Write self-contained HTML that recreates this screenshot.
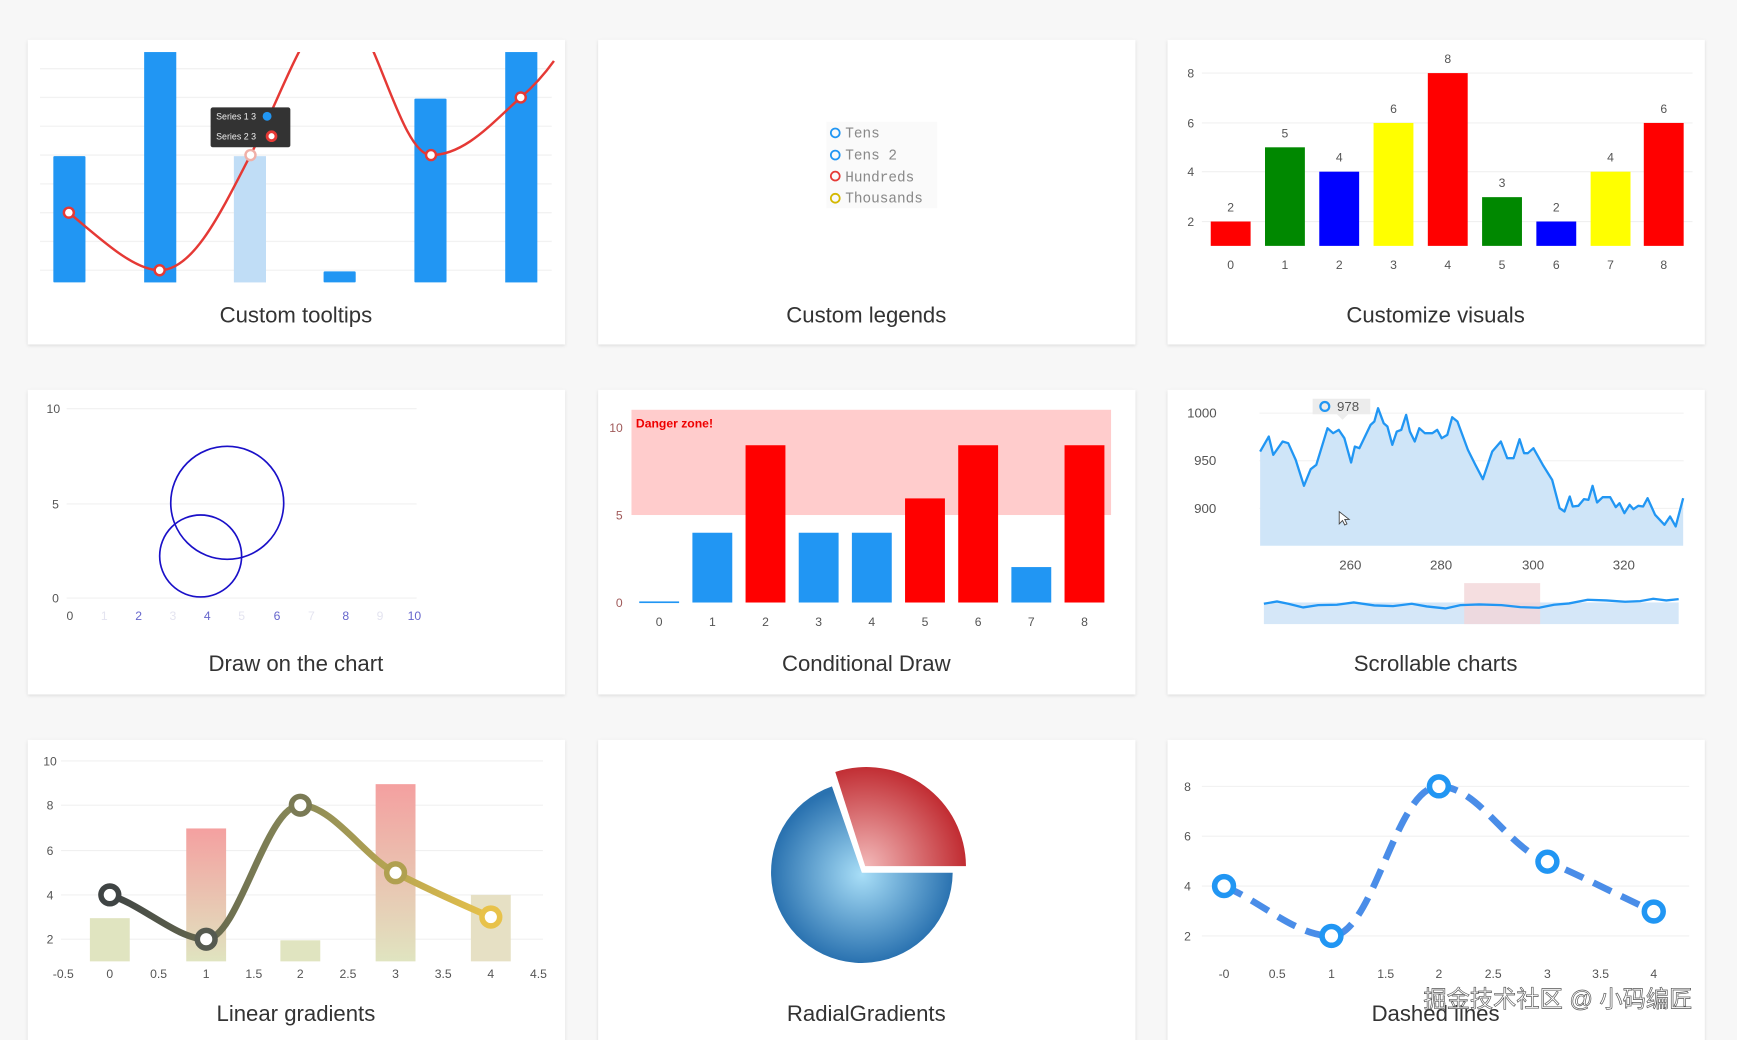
<!DOCTYPE html>
<html><head><meta charset="utf-8"><style>
html,body{margin:0;padding:0;background:#f7f7f7;}
svg{display:block;font-family:"Liberation Sans",sans-serif;}
</style></head><body>
<svg width="1737" height="1040" viewBox="0 0 1568 939" xmlns="http://www.w3.org/2000/svg">
<defs>
<filter id="sh" x="-5%" y="-5%" width="110%" height="115%"><feDropShadow dx="0" dy="1" stdDeviation="1.5" flood-color="#000" flood-opacity="0.12"/></filter>
<clipPath id="c1"><rect x="36" y="47" width="470" height="220"/></clipPath>
<linearGradient id="rb" x1="0" y1="0" x2="0" y2="1"><stop offset="0" stop-color="#f4a0a0"/><stop offset="1" stop-color="#e0e4c0"/></linearGradient>
<linearGradient id="lg" gradientUnits="userSpaceOnUse" x1="99" y1="0" x2="443" y2="0"><stop offset="0" stop-color="#3f4444"/><stop offset="0.5" stop-color="#8a8a58"/><stop offset="1" stop-color="#e8c24a"/></linearGradient>
<radialGradient id="pb" cx="0.5" cy="0.5" r="0.5"><stop offset="0" stop-color="#a8def7"/><stop offset="1" stop-color="#2a72b0"/></radialGradient>
<radialGradient id="pr" gradientUnits="userSpaceOnUse" cx="781" cy="782" r="92"><stop offset="0" stop-color="#f2b8b8"/><stop offset="1" stop-color="#c02a30"/></radialGradient>
</defs>
<rect width="1568" height="939" fill="#f7f7f7"/>
<g fill="#fff" filter="url(#sh)">
<rect x="25" y="36" width="485" height="275"/><rect x="540" y="36" width="485" height="275"/><rect x="1054" y="36" width="485" height="275"/>
<rect x="25" y="352" width="485" height="275"/><rect x="540" y="352" width="485" height="275"/><rect x="1054" y="352" width="485" height="275"/>
<rect x="25" y="668" width="485" height="290"/><rect x="540" y="668" width="485" height="290"/><rect x="1054" y="668" width="485" height="290"/>
</g>
<g font-size="20" fill="#333" text-anchor="middle">
<text x="267" y="291">Custom tooltips</text><text x="782" y="291">Custom legends</text><text x="1296" y="291">Customize visuals</text>
<text x="267" y="606">Draw on the chart</text><text x="782" y="606">Conditional Draw</text><text x="1296" y="606">Scrollable charts</text>
<text x="267" y="922">Linear gradients</text><text x="782" y="922">RadialGradients</text><text x="1296" y="922">Dashed lines</text>
</g>

<!-- Card 1 -->
<g stroke="#f2f2f2" stroke-width="1.2">
<line x1="36" x2="498" y1="62" y2="62"/><line x1="36" x2="498" y1="88" y2="88"/><line x1="36" x2="498" y1="114" y2="114"/><line x1="36" x2="498" y1="140" y2="140"/><line x1="36" x2="498" y1="166" y2="166"/><line x1="36" x2="498" y1="192" y2="192"/><line x1="36" x2="498" y1="218" y2="218"/><line x1="36" x2="498" y1="244" y2="244"/>
</g>
<g fill="#2196f3">
<rect x="48" y="141" width="29" height="114" rx="1"/><rect x="130" y="47" width="29" height="208"/><rect x="211" y="141" width="29" height="114" fill="#c0ddf6"/><rect x="292" y="245" width="29" height="10" rx="1"/><rect x="374" y="89" width="29" height="166" rx="1"/><rect x="456" y="47" width="29" height="208"/>
</g>
<path clip-path="url(#c1)" d="M62,192 C90,215 120,244 144,244 C175,244 200,190 226,140 C255,85 280,5 307,5 C335,5 360,140 389,140 C420,140 445,110 470,88 C485,75 495,62 500,55" fill="none" stroke="#e53935" stroke-width="2.2"/>
<g fill="#fff" stroke="#e53935" stroke-width="2.2"><circle cx="62" cy="192" r="4.5"/><circle cx="144" cy="244" r="4.5"/><circle cx="226" cy="140" r="4.5" stroke="#f0b0a8"/><circle cx="389" cy="140" r="4.5"/><circle cx="470" cy="88" r="4.5"/></g>
<rect x="190" y="97" width="72" height="36" rx="2" fill="#333"/>
<g fill="#eee" font-size="8"><text x="195" y="108">Series 1 3</text><text x="195" y="126">Series 2 3</text></g>
<circle cx="241" cy="105" r="4" fill="#2196f3"/><circle cx="245" cy="123" r="4" fill="#fff" stroke="#e53935" stroke-width="2.5"/>

<!-- Card 2 -->
<rect x="746" y="110" width="100" height="78" fill="#fafafa"/>
<g font-family="Liberation Mono,monospace" font-size="13" fill="#888">
<text x="763" y="124">Tens</text><text x="763" y="144">Tens 2</text><text x="763" y="164">Hundreds</text><text x="763" y="183">Thousands</text></g>
<g fill="none" stroke-width="1.6"><circle cx="754" cy="120" r="4" stroke="#2196f3"/><circle cx="754" cy="140" r="4" stroke="#2196f3"/><circle cx="754" cy="159" r="4" stroke="#e53935"/><circle cx="754" cy="179" r="4" stroke="#d4b800"/></g>

<!-- Card 3 -->
<g stroke="#f0f0f0"><line x1="1085" x2="1528" y1="66" y2="66"/><line x1="1085" x2="1528" y1="111" y2="111"/><line x1="1085" x2="1528" y1="155" y2="155"/><line x1="1085" x2="1528" y1="200" y2="200"/></g>
<g font-size="11" fill="#555" text-anchor="middle"><text x="1075" y="70">8</text><text x="1075" y="115">6</text><text x="1075" y="159">4</text><text x="1075" y="204">2</text>
<text x="1111" y="243">0</text><text x="1160" y="243">1</text><text x="1209" y="243">2</text><text x="1258" y="243">3</text><text x="1307" y="243">4</text><text x="1356" y="243">5</text><text x="1405" y="243">6</text><text x="1454" y="243">7</text><text x="1502" y="243">8</text>
<text x="1111" y="191">2</text><text x="1160" y="124">5</text><text x="1209" y="146">4</text><text x="1258" y="102">6</text><text x="1307" y="57">8</text><text x="1356" y="169">3</text><text x="1405" y="191">2</text><text x="1454" y="146">4</text><text x="1502" y="102">6</text></g>
<rect x="1093" y="200" width="36" height="22" fill="#f00"/><rect x="1142" y="133" width="36" height="89" fill="#080"/><rect x="1191" y="155" width="36" height="67" fill="#00f"/><rect x="1240" y="111" width="36" height="111" fill="#ff0"/><rect x="1289" y="66" width="36" height="156" fill="#f00"/><rect x="1338" y="178" width="36" height="44" fill="#080"/><rect x="1387" y="200" width="36" height="22" fill="#00f"/><rect x="1436" y="155" width="36" height="67" fill="#ff0"/><rect x="1484" y="111" width="36" height="111" fill="#f00"/>

<!-- Card 4 -->
<g stroke="#f0f0f0"><line x1="60" x2="376" y1="369" y2="369"/><line x1="60" x2="376" y1="455" y2="455"/><line x1="60" x2="376" y1="540" y2="540"/></g>
<g font-size="11" fill="#555" text-anchor="middle"><text x="48" y="373">10</text><text x="50" y="459">5</text><text x="50" y="544">0</text><text x="63" y="560">0</text></g>
<g font-size="11" text-anchor="middle" fill="#6666cc"><text x="125" y="560">2</text><text x="187" y="560">4</text><text x="250" y="560">6</text><text x="312" y="560">8</text><text x="374" y="560">10</text></g>
<g font-size="11" text-anchor="middle" fill="#e4e4f0"><text x="94" y="560">1</text><text x="156" y="560">3</text><text x="218" y="560">5</text><text x="281" y="560">7</text><text x="343" y="560">9</text></g>
<g fill="none" stroke="#1a10c8" stroke-width="1.5"><circle cx="205" cy="454" r="51"/><circle cx="181" cy="502" r="37"/></g>

<!-- Card 5 -->
<rect x="570" y="370" width="433" height="95" fill="#ffcccc"/>
<text x="574" y="386" font-size="11" font-weight="bold" fill="#e00">Danger zone!</text>
<g font-size="11" fill="#a05a5a" text-anchor="middle"><text x="556" y="390">10</text><text x="559" y="469">5</text><text x="559" y="548">0</text></g>
<g font-size="11" fill="#555" text-anchor="middle"><text x="595" y="565">0</text><text x="643" y="565">1</text><text x="691" y="565">2</text><text x="739" y="565">3</text><text x="787" y="565">4</text><text x="835" y="565">5</text><text x="883" y="565">6</text><text x="931" y="565">7</text><text x="979" y="565">8</text></g>
<rect x="577" y="543" width="36" height="1.5" fill="#2196f3"/>
<rect x="625" y="481" width="36" height="63" fill="#2196f3"/><rect x="673" y="402" width="36" height="142" fill="#f00"/><rect x="721" y="481" width="36" height="63" fill="#2196f3"/><rect x="769" y="481" width="36" height="63" fill="#2196f3"/><rect x="817" y="450" width="36" height="94" fill="#f00"/><rect x="865" y="402" width="36" height="142" fill="#f00"/><rect x="913" y="512" width="36" height="32" fill="#2196f3"/><rect x="961" y="402" width="36" height="142" fill="#f00"/>

<!-- Card 6 -->
<g stroke="#f0f0f0"><line x1="1137" x2="1520" y1="373" y2="373"/><line x1="1137" x2="1520" y1="416" y2="416"/><line x1="1137" x2="1520" y1="459" y2="459"/></g>
<g font-size="12" fill="#555" text-anchor="middle"><text x="1085" y="377">1000</text><text x="1088" y="420">950</text><text x="1088" y="463">900</text>
<text x="1219" y="514">260</text><text x="1301" y="514">280</text><text x="1384" y="514">300</text><text x="1466" y="514">320</text></g>
<g transform="translate(1037.9,343) scale(0.338,0.3008)">
<polygon fill="#cfe5f8" points="295,215 318,170 330,225 355,185 370,190 390,240 412,318 430,268 445,255 475,145 490,160 505,150 520,175 538,248 548,200 560,205 590,135 600,125 610,85 625,130 635,140 648,195 660,155 672,150 685,105 695,155 708,185 720,145 735,160 755,160 768,150 780,175 795,165 808,112 822,125 850,210 870,255 890,298 915,215 938,185 955,235 972,235 988,178 1000,220 1010,220 1025,205 1050,255 1075,300 1095,385 1108,395 1122,350 1130,380 1145,378 1160,358 1172,360 1183,318 1195,368 1210,352 1230,352 1245,382 1255,370 1268,400 1282,375 1292,388 1305,378 1318,380 1330,355 1350,405 1375,435 1390,410 1405,440 1425,355 1425,498 295,498"/>
<polyline fill="none" stroke="#2196f3" stroke-width="2.3" vector-effect="non-scaling-stroke" stroke-linejoin="round" points="295,215 318,170 330,225 355,185 370,190 390,240 412,318 430,268 445,255 475,145 490,160 505,150 520,175 538,248 548,200 560,205 590,135 600,125 610,85 625,130 635,140 648,195 660,155 672,150 685,105 695,155 708,185 720,145 735,160 755,160 768,150 780,175 795,165 808,112 822,125 850,210 870,255 890,298 915,215 938,185 955,235 972,235 988,178 1000,220 1010,220 1025,205 1050,255 1075,300 1095,385 1108,395 1122,350 1130,380 1145,378 1160,358 1172,360 1183,318 1195,368 1210,352 1230,352 1245,382 1255,370 1268,400 1282,375 1292,388 1305,378 1318,380 1330,355 1350,405 1375,435 1390,410 1405,440 1425,355"/>
<rect x="305" y="668" width="1108" height="65" fill="#d5e7f8"/>
<rect x="840" y="610" width="203" height="123" fill="#f3d6d8" opacity="0.8"/>
<polyline fill="none" stroke="#2196f3" stroke-width="2.3" vector-effect="non-scaling-stroke" points="305,672 340,665 370,672 410,683 450,676 500,675 545,668 600,677 650,679 700,672 740,680 790,686 830,676 880,674 940,676 990,682 1040,684 1080,675 1120,671 1170,660 1220,662 1270,666 1310,664 1345,657 1380,662 1413,658"/>
</g>
<path d="M1185,360 h52 a4,4 0 0 1 0,0 v14 h-20 l-5,5 l-5,-5 h-22 z" fill="#ececec"/>
<circle cx="1196" cy="367" r="4" fill="none" stroke="#2196f3" stroke-width="2"/>
<text x="1207" y="371" font-size="12" fill="#555">978</text>
<path d="M1209,462 v11 l3,-3 l2,4 l2,-1 l-2,-4 h4 z" fill="#fff" stroke="#444" stroke-width="0.8"/>

<!-- Card 7 -->
<g stroke="#f0f0f0"><line x1="55" x2="490" y1="687" y2="687"/><line x1="55" x2="490" y1="727" y2="727"/><line x1="55" x2="490" y1="768" y2="768"/><line x1="55" x2="490" y1="808" y2="808"/><line x1="55" x2="490" y1="848" y2="848"/></g>
<g font-size="11" fill="#555" text-anchor="middle"><text x="45" y="691">10</text><text x="45" y="731">8</text><text x="45" y="772">6</text><text x="45" y="812">4</text><text x="45" y="852">2</text>
<text x="57" y="883">-0.5</text><text x="99" y="883">0</text><text x="143" y="883">0.5</text><text x="186" y="883">1</text><text x="229" y="883">1.5</text><text x="271" y="883">2</text><text x="314" y="883">2.5</text><text x="357" y="883">3</text><text x="400" y="883">3.5</text><text x="443" y="883">4</text><text x="486" y="883">4.5</text></g>
<rect x="81" y="829" width="36" height="39" fill="#e0e4c0"/><rect x="168" y="748" width="36" height="120" fill="url(#rb)"/><rect x="253" y="849" width="36" height="19" fill="#e0e4c0"/><rect x="339" y="708" width="36" height="160" fill="url(#rb)"/><rect x="425" y="808" width="36" height="60" fill="#e6e0c4"/>
<path d="M99,808 C130,818 160,848 186,848 C215,848 240,727 271,727 C300,727 330,775 357,788 C390,805 420,818 443,828" fill="none" stroke="url(#lg)" stroke-width="6"/>
<g fill="#fff" stroke-width="5"><circle cx="99" cy="808" r="8" stroke="#3f4444"/><circle cx="186" cy="848" r="8" stroke="#555a50"/><circle cx="271" cy="727" r="8" stroke="#7a7a55"/><circle cx="357" cy="788" r="8" stroke="#b0a050"/><circle cx="443" cy="828" r="8" stroke="#e8c24a"/></g>

<!-- Card 8 -->
<path d="M778,788 L860,788 A82,82 0 1 1 751,710 Z" fill="url(#pb)"/>
<path d="M781,782 L754,697 A90,90 0 0 1 872,782 Z" fill="url(#pr)"/>

<!-- Card 9 -->
<g stroke="#f0f0f0"><line x1="1085" x2="1525" y1="710" y2="710"/><line x1="1085" x2="1525" y1="755" y2="755"/><line x1="1085" x2="1525" y1="800" y2="800"/><line x1="1085" x2="1525" y1="845" y2="845"/></g>
<g font-size="11" fill="#555" text-anchor="middle"><text x="1072" y="714">8</text><text x="1072" y="759">6</text><text x="1072" y="804">4</text><text x="1072" y="849">2</text>
<text x="1105" y="883">-0</text><text x="1153" y="883">0.5</text><text x="1202" y="883">1</text><text x="1251" y="883">1.5</text><text x="1299" y="883">2</text><text x="1348" y="883">2.5</text><text x="1397" y="883">3</text><text x="1445" y="883">3.5</text><text x="1493" y="883">4</text></g>
<path d="M1105,800 C1140,815 1170,845 1202,845 C1240,845 1260,710 1299,710 C1335,710 1360,765 1397,778 C1430,792 1460,808 1493,823" fill="none" stroke="#4a8de8" stroke-width="6" stroke-dasharray="18,10"/>
<g fill="#fff" stroke="#2196f3" stroke-width="5"><circle cx="1105" cy="800" r="8.5"/><circle cx="1202" cy="845" r="8.5"/><circle cx="1299" cy="710" r="8.5"/><circle cx="1397" cy="778" r="8.5"/><circle cx="1493" cy="823" r="8.5"/></g>
<text x="1285" y="909" font-size="21" fill="#fff" stroke="#555" stroke-width="0.6" font-family="'Liberation Sans','Noto Sans CJK SC',sans-serif">掘金技术社区 @ 小码编匠</text>
</svg>
</body></html>
